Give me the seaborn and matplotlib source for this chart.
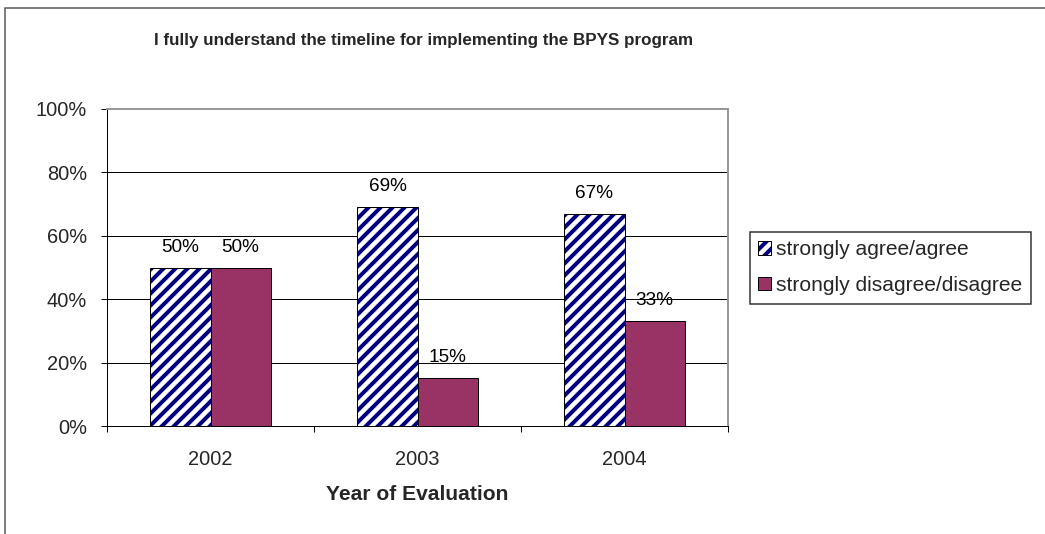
import matplotlib
matplotlib.use("Agg")
import matplotlib.pyplot as plt
import seaborn as sns
import pandas as pd
from matplotlib.patches import Patch, Rectangle
from matplotlib.ticker import FuncFormatter

years = ["2002", "2003", "2004"]
series_names = ["strongly agree/agree", "strongly disagree/disagree"]
agree = [50, 69, 67]
disagree = [50, 15, 33]

df = pd.DataFrame({
    "year": years * 2,
    "value": agree + disagree,
    "series": [series_names[0]] * 3 + [series_names[1]] * 3,
})

NAVY = (0, 0, 0.5, 1)
PURPLE = "#993366"

sns.set_theme(style="white")
plt.rcParams["font.family"] = ["Liberation Sans", "DejaVu Sans"]
plt.rcParams["hatch.linewidth"] = 4.0

DPI = 72
fig = plt.figure(figsize=(1045 / DPI, 534 / DPI), dpi=DPI)
ax = fig.add_axes([107 / 1045, 1 - 426 / 534, (728 - 107) / 1045, (426 - 109) / 534])

sns.barplot(data=df, x="year", y="value", hue="series", hue_order=series_names,
            palette=["white", PURPLE], width=0.58, gap=0, dodge=True,
            edgecolor="black", linewidth=1.0, ax=ax, legend=False, saturation=1)

for bar in ax.containers[0]:
    bar.set_facecolor("white")
    bar.set_hatch("//")
    bar._hatch_color = NAVY

for cont in ax.containers:
    ax.bar_label(cont, labels=[f"{v:g}%" for v in cont.datavalues], padding=12,
                 fontsize=19, color="black")

ax.set_ylim(0, 100)
ax.set_xlim(-0.5, 2.5)
ax.set_yticks([0, 20, 40, 60, 80, 100])
ax.yaxis.set_major_formatter(FuncFormatter(lambda v, p: f"{v:.0f}%"))
ax.yaxis.grid(True, color="black", linewidth=1.0)
ax.set_axisbelow(True)

ax.set_xticks([0, 1, 2])
ax.set_xticklabels(years)
ax.set_xticks([-0.5, 0.5, 1.5, 2.5], minor=True)
ax.tick_params(axis="x", which="major", length=0, labelsize=20, pad=24)
ax.tick_params(axis="x", which="minor", length=6, width=1, color="black", direction="out", bottom=True)
ax.tick_params(axis="y", which="major", length=6, width=1, color="black", direction="out", left=True,
               labelsize=20, pad=14)

for s in ["left", "bottom"]:
    ax.spines[s].set_color("black")
    ax.spines[s].set_linewidth(1.0)
for s in ["top", "right"]:
    ax.spines[s].set_color("#999999")
    ax.spines[s].set_linewidth(2.0)

ax.set_xlabel("Year of Evaluation", fontsize=21, fontweight="bold", labelpad=16)
ax.set_ylabel("")

fig.text(0.405, 1 - 40 / 534, "I fully understand the timeline for implementing the BPYS program",
         ha="center", va="center", fontsize=17, fontweight="bold")

handles = [Patch(facecolor="white", edgecolor="black", hatch="//", label=series_names[0]),
           Patch(facecolor=PURPLE, edgecolor="black", label=series_names[1])]
leg = fig.legend(handles=handles, loc="upper left", bbox_to_anchor=(750 / 1045, 1 - 232 / 534),
                 frameon=True, fancybox=False, fontsize=21, handlelength=0.6, handleheight=0.6,
                 handletextpad=0.25, borderpad=0.4, labelspacing=0.8, borderaxespad=0)
leg.get_frame().set_edgecolor("black")
leg.get_frame().set_linewidth(1.5)
for h in leg.legend_handles[:1]:
    h._hatch_color = NAVY

fig.patches.append(Rectangle((5 / 1045, -0.1), 1.2, 1.1 - 8 / 534, transform=fig.transFigure,
                             fill=False, edgecolor="#555555", linewidth=1.5))

fig.savefig("out.png", dpi=DPI)
